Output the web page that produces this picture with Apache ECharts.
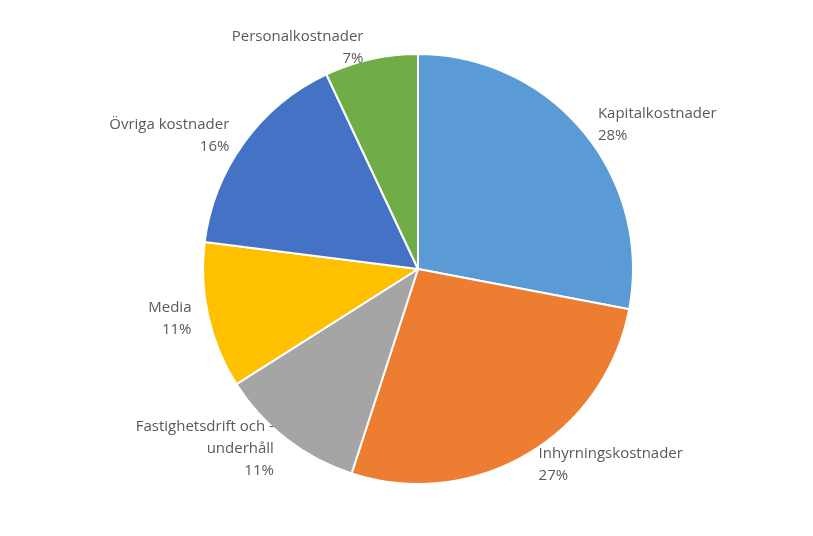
<!DOCTYPE html>
<html>
<head>
<meta charset="utf-8">
<script src="https://cdn.jsdelivr.net/npm/echarts@6/dist/echarts.min.js"></script>
<style>html,body{margin:0;padding:0;background:#fff}#main{width:813px;height:536px}</style>
</head>
<body>
<div id="main"></div>
<script>
// kategorier och andelar
var names = ['Kapitalkostnader', 'Inhyrningskostnader', 'Fastighetsdrift och -\nunderhåll', 'Media', 'Övriga kostnader', 'Personalkostnader'];
var values = [28, 27, 11, 11, 16, 7];
var colors = ['#5B9BD5', '#ED7D31', '#A5A5A5', '#FFC000', '#4472C4', '#70AD47'];

var data = [];
for (var i = 0; i < names.length; i++) {
    data.push({ name: names[i], value: values[i] });
}

var myChart = echarts.init(document.getElementById('main'));
myChart.setOption({
    color: colors,
    animation: false,
    series: [{
        type: 'pie',
        center: [418, 269],
        radius: [0, 215],
        startAngle: 90,
        clockwise: true,
        data: data,
        itemStyle: { borderColor: '#fff', borderWidth: 2 },
        label: {
            show: true,
            position: 'outside',
            formatter: '{b}\n{d}%',
            color: '#595959',
            fontSize: 15,
            lineHeight: 22,
            align: 'center',
            fontFamily: 'Open Sans, Liberation Sans, sans-serif'
        },
        labelLine: { show: false, length: 12, length2: 0 }
    }]
});
</script>
</body>
</html>
